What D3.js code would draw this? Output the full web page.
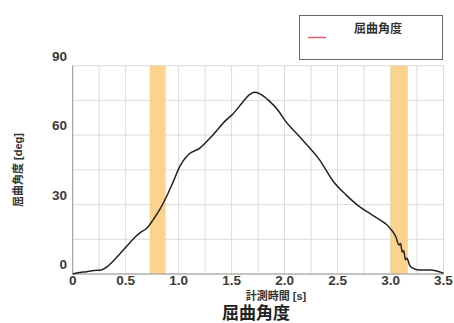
<!DOCTYPE html>
<html><head><meta charset="utf-8">
<script src="https://cdn.jsdelivr.net/npm/d3@7"></script>
<style>body{margin:0;background:#fff;}svg{display:block;font-family:"Liberation Sans",Arial,"Noto Sans CJK JP",sans-serif;}</style>
</head><body>
<svg id="c" width="454" height="323"></svg>
<script>
const times = [0,0.05,0.13,0.2,0.27,0.32,0.38,0.45,0.52,0.59,0.65,0.70,0.76,0.82,0.886,0.95,1.01,1.09,1.2,1.31,1.45,1.51,1.6,1.67,1.72,1.78,1.85,1.95,2.0,2.14,2.33,2.46,2.58,2.71,2.81,2.90,2.96,3.0,3.05,3.08,3.095,3.11,3.125,3.14,3.155,3.18,3.21,3.27,3.38,3.46,3.5];
const angles = [0,0.5,1.0,1.5,1.7,3,5.5,9,12.5,16,18.3,19.8,23.5,27.7,33.5,40,46.4,51.5,54.4,59.4,66.6,69,74,77.5,78.5,77.5,75,70,66.6,59.4,49.3,40,34.2,29,26,23.4,21.5,19.5,16.1,12.5,13.2,9.5,10,6.2,6.8,3.8,2.5,1.7,1.7,1.0,0.3];
const bands = [[0.726,0.877],[3.0,3.163]];
const xTicks = [0,0.5,1.0,1.5,2.0,2.5,3.0,3.5];
const xTickLabels = ["0","0.5","1.0","1.5","2.0","2.5","3.0","3.5"];
const yTicks = [0,30,60,90];
const seriesName = "屈曲角度";

const svg = d3.select("#c");
const L=72.7,R=443.5,T=65.7,B=274;
const x = d3.scaleLinear().domain([0,3.5]).range([L,R]);
const y = d3.scaleLinear().domain([0,90]).range([B,T]);

// grid
const g = svg.append("g");
g.selectAll(".vg").data(d3.range(0,3.5001,0.25)).join("line")
 .attr("x1",d=>x(d)).attr("x2",d=>x(d)).attr("y1",T).attr("y2",B)
 .attr("stroke","#dcdcdc").attr("stroke-width",1);
g.selectAll(".hg").data(d3.range(0,90.001,15)).join("line")
 .attr("x1",L).attr("x2",R).attr("y1",d=>y(d)).attr("y2",d=>y(d))
 .attr("stroke","#dcdcdc").attr("stroke-width",1);

// bands
svg.selectAll(".band").data(bands).join("rect")
 .attr("x",d=>x(d[0])).attr("width",d=>x(d[1])-x(d[0]))
 .attr("y",T).attr("height",B-T).attr("fill","#fbd38e");

// axes frame
svg.append("line").attr("x1",L).attr("x2",L).attr("y1",T).attr("y2",B).attr("stroke","#999");
svg.append("line").attr("x1",L).attr("x2",R).attr("y1",B).attr("y2",B).attr("stroke","#999");

// line
const line = d3.line().x((d,i)=>x(times[i])).y(d=>y(d)).curve(d3.curveMonotoneX);
svg.append("path").attr("d",line(angles)).attr("fill","none").attr("stroke","#222").attr("stroke-width",1.5);

// tick labels
svg.selectAll(".yl").data(yTicks).join("text")
 .attr("x",67).attr("y",d=>y(d)-5).attr("text-anchor","end")
 .attr("font-size",13.5).attr("font-weight","bold").attr("fill","#3a3a3a").text(d=>d);
svg.selectAll(".xl").data(xTicks).join("text")
 .attr("x",d=>x(d)).attr("y",285).attr("text-anchor","middle")
 .attr("font-size",13.5).attr("font-weight","bold").attr("fill","#3a3a3a").text((d,i)=>xTickLabels[i]);

// axis titles
svg.append("text").attr("x",276).attr("y",300).attr("text-anchor","middle")
 .attr("font-size",11).attr("font-weight","bold").attr("fill","#333").text("計測時間 [s]");
svg.append("text").attr("transform","translate(22,170) rotate(-90)").attr("text-anchor","middle")
 .attr("font-size",11).attr("font-weight","bold").attr("fill","#333").text("屈曲角度 [deg]");
svg.append("text").attr("x",256).attr("y",319).attr("text-anchor","middle")
 .attr("font-size",17).attr("font-weight","bold").attr("fill","#222").text("屈曲角度");

// legend
svg.append("rect").attr("x",299.5).attr("y",15.5).attr("width",143).attr("height",44)
 .attr("fill","#fff").attr("stroke","#666").attr("stroke-width",1);
svg.append("line").attr("x1",308).attr("x2",326).attr("y1",37.5).attr("y2",37.5).attr("stroke","#e06070").attr("stroke-width",1.5);
svg.append("text").attr("x",354).attr("y",33).attr("font-size",12).attr("font-weight","bold").attr("fill","#333").text(seriesName);
</script>
</body></html>
